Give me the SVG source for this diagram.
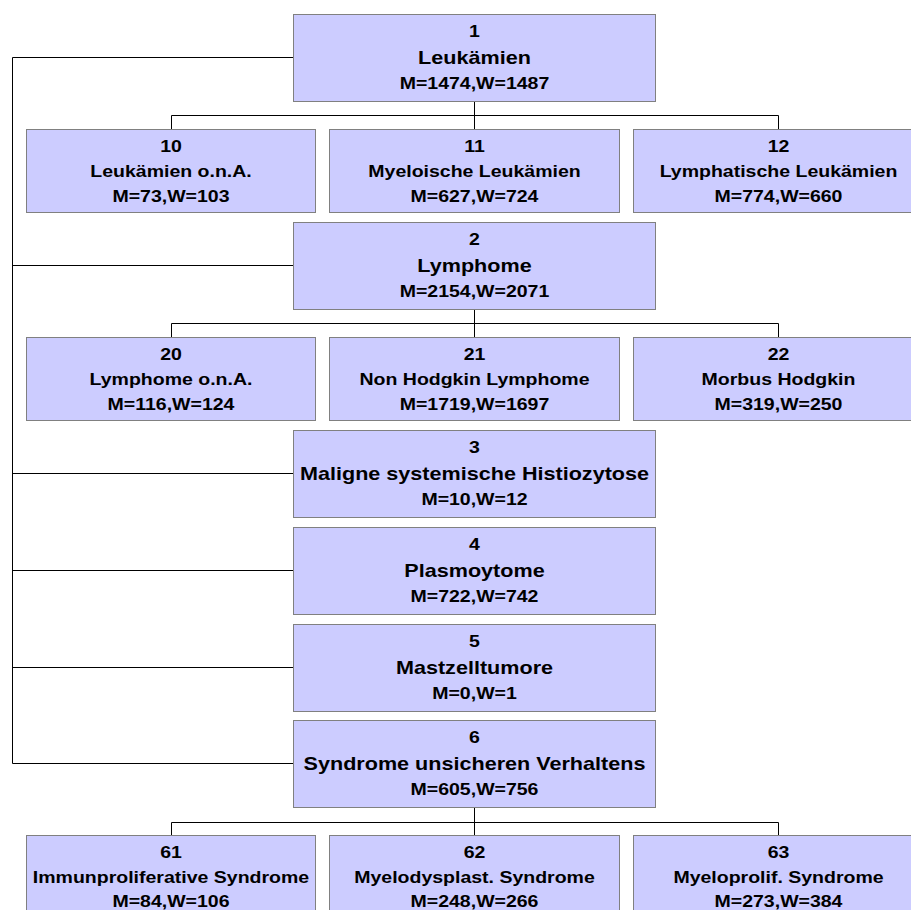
<svg xmlns="http://www.w3.org/2000/svg" width="911" height="910" viewBox="0 0 911 910">
<style>
.box{fill:#ccccff;stroke:#808080;stroke-width:1}
.t{font-family:"Liberation Sans",Arial,sans-serif;font-weight:bold;font-size:16px;fill:#000;text-anchor:middle}
.t.m{font-size:17.7px}
.c{fill:none;stroke:#000;stroke-width:1}
</style>
<rect width="911" height="910" fill="#fff"/>
<g id="connectors" class="c">
<path d="M293 57.5H12.5V763.5H293M12.5 265.5H293M12.5 473.5H293M12.5 570.5H293M12.5 667.5H293"/>
<path d="M474.5 101V129M171.5 129V115.5H778.5V129"/>
<path d="M474.5 309V337M171.5 337V323.5H778.5V337"/>
<path d="M474.5 807V835M171.5 835V822.5H778.5V835"/>
</g>
<g id="n1"><rect class="box" x="293.5" y="14.5" width="362" height="87"/><g transform="translate(474.5,0) scale(1.22,1)"><text class="t" x="0" y="37.5">1</text><text class="t m" x="0" y="64">Leukämien</text><text class="t" x="0" y="89.5">M=1474,W=1487</text></g></g>
<g id="n10"><rect class="box" x="26.5" y="129.5" width="289" height="83"/><g transform="translate(171,0) scale(1.22,1)"><text class="t" x="0" y="152">10</text><text class="t" x="0" y="177">Leukämien o.n.A.</text><text class="t" x="0" y="202">M=73,W=103</text></g></g>
<g id="n11"><rect class="box" x="329.5" y="129.5" width="290" height="83"/><g transform="translate(474.5,0) scale(1.22,1)"><text class="t" x="0" y="152">11</text><text class="t" x="0" y="177">Myeloische Leukämien</text><text class="t" x="0" y="202">M=627,W=724</text></g></g>
<g id="n12"><rect class="box" x="633.5" y="129.5" width="290" height="83"/><g transform="translate(778.5,0) scale(1.22,1)"><text class="t" x="0" y="152">12</text><text class="t" x="0" y="177">Lymphatische Leukämien</text><text class="t" x="0" y="202">M=774,W=660</text></g></g>
<g id="n2"><rect class="box" x="293.5" y="222.5" width="362" height="87"/><g transform="translate(474.5,0) scale(1.22,1)"><text class="t" x="0" y="245.5">2</text><text class="t m" x="0" y="272">Lymphome</text><text class="t" x="0" y="297.5">M=2154,W=2071</text></g></g>
<g id="n20"><rect class="box" x="26.5" y="337.5" width="289" height="83"/><g transform="translate(171,0) scale(1.22,1)"><text class="t" x="0" y="360">20</text><text class="t" x="0" y="385">Lymphome o.n.A.</text><text class="t" x="0" y="410">M=116,W=124</text></g></g>
<g id="n21"><rect class="box" x="329.5" y="337.5" width="290" height="83"/><g transform="translate(474.5,0) scale(1.22,1)"><text class="t" x="0" y="360">21</text><text class="t" x="0" y="385">Non Hodgkin Lymphome</text><text class="t" x="0" y="410">M=1719,W=1697</text></g></g>
<g id="n22"><rect class="box" x="633.5" y="337.5" width="290" height="83"/><g transform="translate(778.5,0) scale(1.22,1)"><text class="t" x="0" y="360">22</text><text class="t" x="0" y="385">Morbus Hodgkin</text><text class="t" x="0" y="410">M=319,W=250</text></g></g>
<g id="n3"><rect class="box" x="293.5" y="430.5" width="362" height="87"/><g transform="translate(474.5,0) scale(1.22,1)"><text class="t" x="0" y="453.5">3</text><text class="t m" x="0" y="480">Maligne systemische Histiozytose</text><text class="t" x="0" y="505.5">M=10,W=12</text></g></g>
<g id="n4"><rect class="box" x="293.5" y="527.5" width="362" height="87"/><g transform="translate(474.5,0) scale(1.22,1)"><text class="t" x="0" y="550.5">4</text><text class="t m" x="0" y="577">Plasmoytome</text><text class="t" x="0" y="602.5">M=722,W=742</text></g></g>
<g id="n5"><rect class="box" x="293.5" y="624.5" width="362" height="87"/><g transform="translate(474.5,0) scale(1.22,1)"><text class="t" x="0" y="647.5">5</text><text class="t m" x="0" y="674">Mastzelltumore</text><text class="t" x="0" y="699.5">M=0,W=1</text></g></g>
<g id="n6"><rect class="box" x="293.5" y="720.5" width="362" height="87"/><g transform="translate(474.5,0) scale(1.22,1)"><text class="t" x="0" y="743.5">6</text><text class="t m" x="0" y="770">Syndrome unsicheren Verhaltens</text><text class="t" x="0" y="795.5">M=605,W=756</text></g></g>
<g id="n61"><rect class="box" x="26.5" y="835.5" width="289" height="83"/><g transform="translate(171,0) scale(1.22,1)"><text class="t" x="0" y="858">61</text><text class="t" x="0" y="883">Immunproliferative Syndrome</text><text class="t" x="0" y="907">M=84,W=106</text></g></g>
<g id="n62"><rect class="box" x="329.5" y="835.5" width="290" height="83"/><g transform="translate(474.5,0) scale(1.22,1)"><text class="t" x="0" y="858">62</text><text class="t" x="0" y="883">Myelodysplast. Syndrome</text><text class="t" x="0" y="907">M=248,W=266</text></g></g>
<g id="n63"><rect class="box" x="633.5" y="835.5" width="290" height="83"/><g transform="translate(778.5,0) scale(1.22,1)"><text class="t" x="0" y="858">63</text><text class="t" x="0" y="883">Myeloprolif. Syndrome</text><text class="t" x="0" y="907">M=273,W=384</text></g></g>
</svg>
